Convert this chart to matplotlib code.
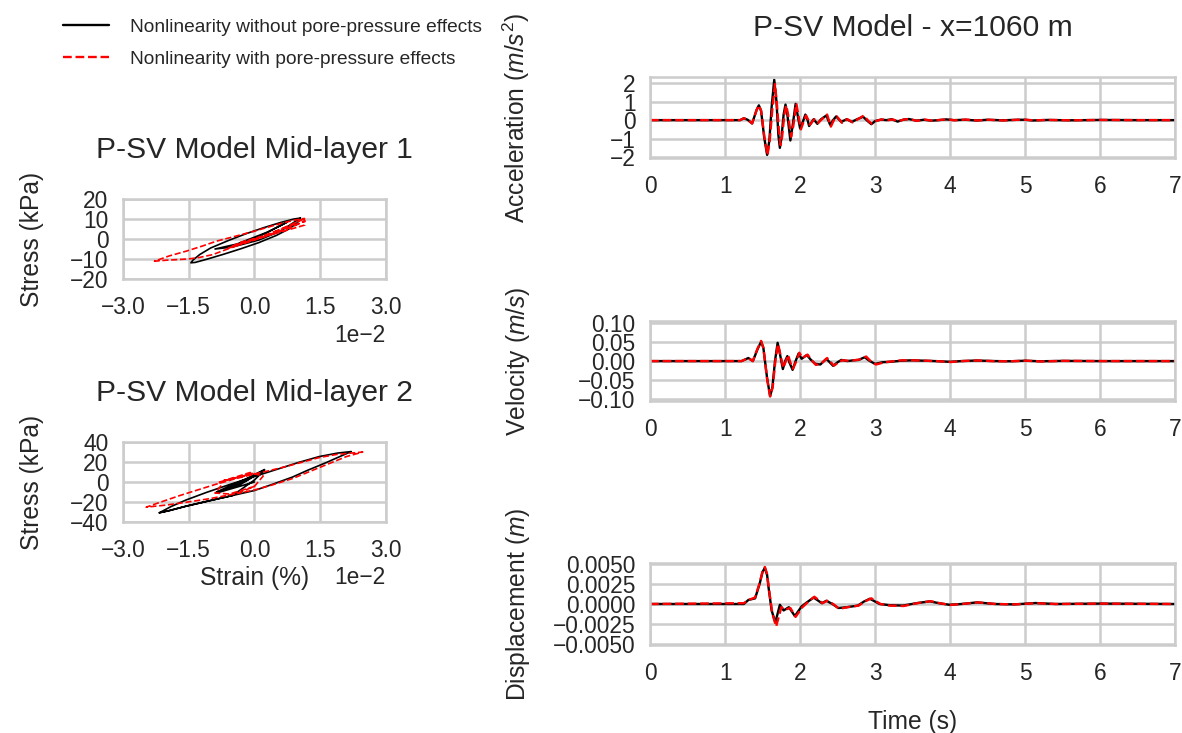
import matplotlib
matplotlib.use('Agg')
import matplotlib.pyplot as plt
import seaborn as sns

#***********************************************************************
# DATA
#***********************************************************************
lbl_dry = 'Nonlinearity without pore-pressure effects'
lbl_pp = 'Nonlinearity with pore-pressure effects'

# stress-strain loops, mid-layer 1 (strain in %, stress in kPa)
l1_dry_strain = [0.0, 0.004, 0.0075, 0.003, -0.004, -0.009, -0.005, 0.001, 0.006, 0.0105,
                 0.009, 0.006, 0.002, -0.002, -0.006, -0.010, -0.0125, -0.0140, -0.0145,
                 -0.0135, -0.011, -0.007, -0.003, 0.001, 0.005, 0.008, 0.0098, 0.0105]
l1_dry_stress = [0.0, 4.5, 8.5, 3.5, -2.5, -5.0, -4.0, -0.5, 4.0, 10.5,
                 10.0, 8.3, 5.6, 2.6, -0.8, -4.5, -7.8, -10.5, -11.9,
                 -11.7, -10.2, -7.6, -4.8, -1.8, 1.8, 5.2, 8.2, 10.5]
l1_pp_strain = [0.0, -0.004, -0.006, -0.002, 0.004, 0.0115, 0.008, 0.002, -0.005, -0.003,
                0.003, 0.0114, 0.010, 0.0087, 0.006, 0.0027, -0.0004, -0.0034, -0.0065,
                -0.0095, -0.0125, -0.0148, -0.0175, -0.0201, -0.0228, -0.0195, -0.0156,
                -0.012, -0.0087, -0.004, -0.0001, 0.0035, 0.0064, 0.009, 0.0114, 0.0115,
                0.006, 0.0]
l1_pp_stress = [0.0, -3.0, -4.5, -2.0, 2.5, 9.0, 5.5, 1.0, -3.5, -1.5,
                2.0, 10.3, 8.8, 7.2, 4.8, 2.2, -0.4, -2.8, -5.3,
                -7.8, -9.2, -9.9, -10.3, -10.6, -11.1, -8.5, -6.1,
                -3.6, -1.1, 1.6, 3.9, 6.2, 8.0, 9.4, 10.3, 7.0,
                3.5, 0.0]

# stress-strain loops, mid-layer 2
l2_dry_strain = [0.0, -0.0087, -0.003, 0.0023, -0.002, -0.0087, -0.002, 0.0023, 0.0,
                 -0.005, -0.010, -0.0156, -0.0195, -0.0217,
                 -0.019, -0.0156, -0.011, -0.006, -0.0004, 0.005, 0.010, 0.0148, 0.019, 0.0221,
                 0.020, 0.0164, 0.012, 0.0087, 0.004, 0.0, -0.005, -0.010, -0.0156, -0.0195,
                 -0.0217]
l2_dry_stress = [0.0, -11.1, -2.0, 12.5, 3.0, -10.0, 1.0, 12.0, 2.0,
                 -13.5, -18.5, -24.2, -28.7, -30.8,
                 -24.5, -18.0, -10.5, -3.0, 5.0, 12.5, 19.5, 25.5, 29.0, 30.5,
                 26.5, 19.5, 11.5, 5.0, -2.5, -8.5, -13.5, -18.5, -24.2, -28.7,
                 -30.8]
l2_pp_strain = [0.0, -0.0057, -0.009, -0.0075, -0.008, -0.004, -0.0004, -0.003, -0.007,
                -0.005, -0.001, 0.002, 0.0, -0.004,
                -0.010, -0.0156, -0.020, -0.0247,
                -0.021, -0.017, -0.013, -0.009, -0.005, -0.001, 0.003, 0.0072, 0.011,
                0.0148, 0.019, 0.0247,
                0.021, 0.0179, 0.014, 0.0087, 0.004, 0.0, -0.004]
l2_pp_stress = [-4.4, -12.0, -11.0, -3.0, 0.0, 4.5, 8.5, 5.5, 1.5,
                4.0, 9.5, 6.0, -4.4, -11.5,
                -16.5, -20.3, -23.0, -25.2,
                -19.5, -13.5, -8.0, -2.5, 2.5, 7.0, 11.0, 15.5, 20.0,
                24.5, 27.8, 30.0,
                25.5, 20.0, 13.0, 3.5, -3.0, -8.0, -11.5]

# surface time histories at x = 1060 m
acc_t_dry = [0.0, 1.20, 1.25, 1.30, 1.36, 1.42, 1.45, 1.48, 1.52, 1.56, 1.59, 1.62, 1.655,
             1.685, 1.71, 1.73, 1.75, 1.78, 1.805, 1.83, 1.87, 1.90, 1.94, 1.97, 2.00, 2.04,
             2.07, 2.10, 2.12, 2.18, 2.23, 2.28, 2.35, 2.40, 2.44, 2.48, 2.55, 2.62, 2.69,
             2.76, 2.84, 2.90, 2.95, 3.00, 3.08, 3.15, 3.22, 3.30, 3.38, 3.45, 3.55, 3.65,
             3.75, 3.85, 3.95, 4.05, 4.20, 4.35, 4.50, 4.70, 4.90, 5.00, 5.10, 5.30, 5.60,
             6.00, 6.50, 7.00]
acc_dry = [0.0, 0.0, 0.10, 0.02, -0.18, 0.55, 0.80, 0.50, -0.90, -1.88, -1.10, 0.70, 2.18,
           1.00, -0.80, -1.50, -1.00, 0.30, 0.84, 0.30, -1.10, -0.30, 0.88, 0.20, -0.45, -0.05,
           0.30, 0.0, -0.32, 0.05, -0.20, 0.05, 0.25, -0.25, 0.0, 0.20, -0.10, 0.05, -0.10,
           0.05, 0.18, -0.05, -0.22, -0.05, 0.03, 0.0, 0.05, -0.08, 0.03, 0.06, -0.03, 0.02,
           -0.03, 0.0, 0.04, 0.0, 0.02, -0.02, 0.02, -0.01, 0.02, 0.02, -0.02, 0.01, -0.01,
           0.01, 0.0, 0.0]
acc_t_pp = [0.0, 1.20, 1.25, 1.30, 1.36, 1.42, 1.45, 1.48, 1.525, 1.565, 1.595, 1.63, 1.665,
            1.69, 1.72, 1.74, 1.76, 1.79, 1.815, 1.84, 1.88, 1.91, 1.95, 1.98, 2.01, 2.05,
            2.08, 2.11, 2.13, 2.19, 2.24, 2.29, 2.36, 2.41, 2.45, 2.49, 2.56, 2.63, 2.70,
            2.77, 2.85, 2.91, 2.96, 3.01, 3.09, 3.16, 3.23, 3.31, 3.39, 3.46, 3.56, 3.66,
            3.76, 3.86, 3.96, 4.06, 4.21, 4.36, 4.51, 4.71, 4.91, 5.01, 5.11, 5.31, 5.61,
            6.01, 6.50, 7.00]
acc_pp = [0.0, 0.0, 0.10, 0.02, -0.18, 0.55, 0.80, 0.50, -0.95, -1.90, -1.10, 0.60, 1.95,
          0.90, -0.70, -1.35, -0.90, 0.30, 0.80, 0.30, -0.90, -0.30, 0.90, 0.20, -0.50, -0.05,
          0.25, 0.0, -0.25, 0.05, -0.15, 0.05, 0.30, -0.35, 0.0, 0.20, -0.15, 0.05, -0.12,
          0.05, 0.25, -0.05, -0.20, -0.05, 0.04, -0.02, 0.04, -0.06, 0.04, 0.05, -0.04, 0.03,
          -0.03, 0.01, 0.04, -0.01, 0.03, -0.02, 0.02, -0.02, 0.02, 0.02, -0.01, 0.01, -0.01,
          0.01, 0.0, 0.0]

vel_t_dry = [0.0, 1.22, 1.31, 1.37, 1.43, 1.48, 1.51, 1.56, 1.60, 1.63, 1.665, 1.70, 1.72,
             1.77, 1.80, 1.83, 1.86, 1.90, 1.94, 1.98, 2.02, 2.09, 2.14, 2.20, 2.27, 2.35,
             2.44, 2.50, 2.55, 2.63, 2.71, 2.78, 2.86, 2.93, 3.00, 3.10, 3.20, 3.35, 3.50,
             3.65, 3.80, 4.00, 4.15, 4.35, 4.60, 4.80, 5.00, 5.20, 5.50, 6.00, 7.00]
vel_dry = [0.0, 0.0, 0.008, 0.0, 0.030, 0.051, 0.035, -0.045, -0.092, -0.070, 0.0, 0.048,
           0.030, -0.021, 0.0, 0.013, -0.005, -0.023, 0.0, 0.020, 0.006, 0.016, 0.004,
           -0.007, -0.009, 0.006, -0.0125, -0.003, 0.003, 0.0, 0.002, 0.003, 0.010, 0.0,
           -0.0075, -0.003, -0.002, 0.001, 0.002, 0.001, 0.0, -0.002, 0.0, 0.0015, 0.0,
           -0.0005, 0.001, -0.0005, 0.0005, 0.0, 0.0]
vel_t_pp = [0.0, 1.22, 1.31, 1.37, 1.43, 1.48, 1.51, 1.56, 1.60, 1.635, 1.67, 1.705, 1.725,
            1.775, 1.81, 1.84, 1.87, 1.905, 1.95, 1.99, 2.03, 2.10, 2.15, 2.21, 2.28, 2.36,
            2.45, 2.51, 2.56, 2.64, 2.72, 2.79, 2.88, 2.94, 3.01, 3.11, 3.21, 3.36, 3.51,
            3.66, 3.81, 4.01, 4.16, 4.36, 4.61, 4.81, 5.01, 5.21, 5.51, 6.00, 7.00]
vel_pp = [0.0, 0.0, 0.008, 0.0, 0.032, 0.053, 0.035, -0.047, -0.093, -0.068, 0.0, 0.045,
          0.028, -0.018, 0.0, 0.016, -0.004, -0.020, 0.0, 0.022, 0.008, 0.017, 0.003,
          -0.010, -0.007, 0.008, -0.012, -0.004, 0.002, 0.001, 0.002, 0.004, 0.012, 0.0,
          -0.009, -0.004, -0.001, 0.002, 0.002, 0.001, 0.0, -0.0025, 0.0, 0.0015, -0.0005,
          -0.0005, 0.001, -0.001, 0.0005, 0.0, 0.0]

dis_t_dry = [0.0, 1.25, 1.31, 1.40, 1.46, 1.50, 1.53, 1.56, 1.58, 1.62, 1.67, 1.73, 1.78,
             1.85, 1.93, 2.02, 2.09, 2.18, 2.29, 2.35, 2.43, 2.51, 2.62, 2.77, 2.85, 2.93,
             3.06, 3.19, 3.37, 3.55, 3.73, 3.85, 3.99, 4.15, 4.36, 4.60, 4.85, 5.14, 5.40,
             6.00, 7.00]
dis_dry = [0.0, 0.0, 0.0005, 0.0007, 0.0025, 0.0040, 0.0045, 0.0036, 0.0020, -0.0008,
           -0.0023, -0.0001, -0.0008, -0.0004, -0.0015, -0.0003, 0.0002, 0.0008, 0.0001,
           0.0004, 0.0, -0.0005, -0.0004, -0.0002, 0.0003, 0.00065, 0.0, -0.00015, -0.0002,
           0.0001, 0.00033, 0.0001, -0.0001, 0.0, 0.0002, 0.0, -0.00005, 0.00012, 0.0,
           0.00005, 0.0]
dis_t_pp = [0.0, 1.25, 1.31, 1.40, 1.46, 1.50, 1.53, 1.56, 1.585, 1.63, 1.68, 1.75, 1.80,
            1.87, 1.94, 2.03, 2.10, 2.19, 2.30, 2.36, 2.44, 2.52, 2.63, 2.78, 2.86, 2.95,
            3.07, 3.20, 3.38, 3.56, 3.74, 3.86, 4.00, 4.16, 4.37, 4.61, 4.86, 5.15, 5.41,
            6.00, 7.00]
dis_pp = [0.0, 0.0001, 0.0005, 0.0008, 0.0026, 0.0041, 0.0046, 0.0037, 0.0018, -0.0012,
          -0.0028, -0.0004, -0.0007, -0.0005, -0.0016, -0.0004, 0.0002, 0.0009, 0.0001,
          0.0004, 0.0, -0.0006, -0.0004, -0.0002, 0.0003, 0.0007, 0.0, -0.0002, -0.00025,
          0.0001, 0.00035, 0.0001, -0.00012, 0.0, 0.0002, 0.0, -0.00005, 0.0001, 0.0,
          0.00005, 0.0]

strain_ticks = [-0.03, -0.015, 0.0, 0.015, 0.03]
l1_yticks = [-20, -10, 0, 10, 20]
l2_yticks = [-40, -20, 0, 20, 40]
acc_yticks = [-2, -1, 0, 1, 2]
vel_yticks = [-0.10, -0.05, 0.0, 0.05, 0.10]
dis_yticks = [-0.005, -0.0025, 0.0, 0.0025, 0.005]
time_ticks = [0, 1, 2, 3, 4, 5, 6, 7]

#***********************************************************************
# STYLE
#***********************************************************************
sns.set_style('whitegrid')
plt.rcParams['font.family'] = ['Liberation Sans', 'DejaVu Sans']
plt.rcParams['mathtext.fontset'] = 'custom'
plt.rcParams['mathtext.it'] = 'Liberation Sans:italic'
plt.rcParams['mathtext.rm'] = 'Liberation Sans'
plt.rcParams['axes.edgecolor'] = '0.8'
plt.rcParams['axes.linewidth'] = 1.8
plt.rcParams['grid.color'] = '0.8'
plt.rcParams['grid.linewidth'] = 1.8
plt.rcParams['xtick.labelsize'] = 16.4
plt.rcParams['ytick.labelsize'] = 16.4
plt.rcParams['xtick.major.pad'] = 9
plt.rcParams['ytick.major.pad'] = 7
plt.rcParams['axes.labelsize'] = 17.7
plt.rcParams['axes.titlesize'] = 21.6

fig = plt.figure(figsize=(11.82, 7.33), dpi=100)

# left: hysteresis loops
ax1 = fig.add_axes([0.104, 0.6194, 0.2225, 0.109])
ax2 = fig.add_axes([0.104, 0.2879, 0.2225, 0.109])
for ax, xs_d, ys_d, xs_p, ys_p, yt, ttl in [
        (ax1, l1_dry_strain, l1_dry_stress, l1_pp_strain, l1_pp_stress, l1_yticks, 'P-SV Model Mid-layer 1'),
        (ax2, l2_dry_strain, l2_dry_stress, l2_pp_strain, l2_pp_stress, l2_yticks, 'P-SV Model Mid-layer 2')]:
    ax.plot(xs_d, ys_d, color='k', lw=1.2)
    ax.plot(xs_p, ys_p, color='r', lw=1.2, ls='--')
    ax.set_xlim(strain_ticks[0], strain_ticks[-1])
    ax.set_ylim(yt[0], yt[-1])
    ax.set_xticks(strain_ticks)
    ax.set_yticks(yt)
    ax.ticklabel_format(style='sci', axis='x', scilimits=(0, 0))
    ax.xaxis.get_offset_text().set_fontsize(16.4)
    ax.set_title(ttl, pad=29.5)
    ax.set_ylabel('Stress (kPa)')
    ax.yaxis.set_label_coords(-0.30, 0.5)
ax2.set_xlabel('Strain (%)')
ax2.xaxis.set_label_coords(0.5, -0.55)

# right: time histories
axa = fig.add_axes([0.55, 0.7844, 0.4442, 0.1105])
axv = fig.add_axes([0.55, 0.4529, 0.4442, 0.109])
axd = fig.add_axes([0.55, 0.1200, 0.4442, 0.112])
for ax, td, yd, tp, yp, yt, ylim, ylab in [
        (axa, acc_t_dry, acc_dry, acc_t_pp, acc_pp, acc_yticks, (-2.05, 2.33), 'Acceleration ($m/s^2$)'),
        (axv, vel_t_dry, vel_dry, vel_t_pp, vel_pp, vel_yticks, (-0.105, 0.105), 'Velocity ($m/s$)'),
        (axd, dis_t_dry, dis_dry, dis_t_pp, dis_pp, dis_yticks, (-0.0051, 0.0051), 'Displacement ($m$)')]:
    ax.plot(td, yd, color='k', lw=1.7, label=lbl_dry)
    ax.plot(tp, yp, color='r', lw=1.7, ls='--', label=lbl_pp)
    ax.set_xlim(0, 7)
    ax.set_ylim(*ylim)
    ax.set_xticks(time_ticks)
    ax.set_yticks(yt)
    ax.set_ylabel(ylab)
    ax.yaxis.set_label_coords(-0.225, 0.5)
axa.set_title('P-SV Model - x=1060 m', pad=29.5)
axd.set_xlabel('Time (s)')
axd.xaxis.set_label_coords(0.5, -0.79)

# legend in the top-left corner
h, l = axa.get_legend_handles_labels()
fig.legend(h, l, loc='upper left', bbox_to_anchor=(0.0533, 0.975), frameon=False,
           fontsize=13.8, handlelength=2.4, handletextpad=1.1, labelspacing=0.75,
           borderpad=0, borderaxespad=0)

fig.savefig('out.png', dpi=100)
